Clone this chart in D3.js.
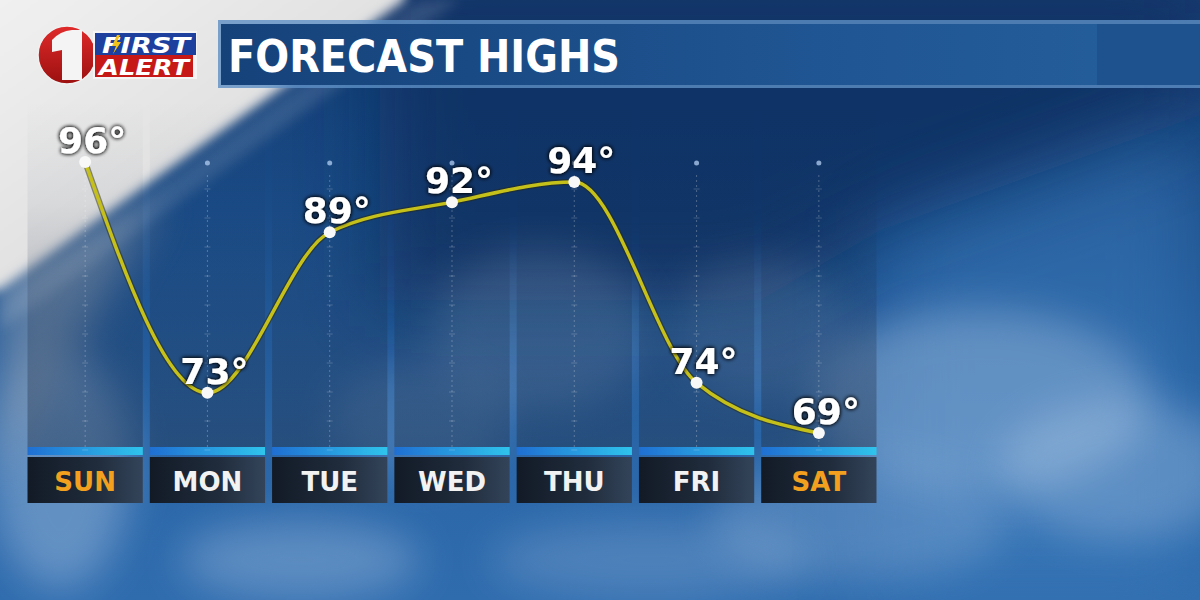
<!DOCTYPE html>
<html><head><meta charset="utf-8">
<script src="https://cdn.jsdelivr.net/npm/d3@7"></script>
<style>html,body{margin:0;padding:0;background:#1b4f8c;overflow:hidden}svg{display:block}</style>
</head><body>
<svg id="c" width="1200" height="600"></svg>
<script>
const days = ["SUN","MON","TUE","WED","THU","FRI","SAT"];
const highs = [96,73,89,92,94,74,69];
const weekend = ["SUN","SAT"];
const title = "FORECAST HIGHS";

const svg = d3.select("#c");
const defs = svg.append("defs");

function lg(id, x1,y1,x2,y2, stops){
  const g = defs.append("linearGradient").attr("id",id)
    .attr("x1",x1).attr("y1",y1).attr("x2",x2).attr("y2",y2);
  stops.forEach(s=>g.append("stop").attr("offset",s[0]).attr("stop-color",s[1]).attr("stop-opacity",s[2]===undefined?1:s[2]));
}
lg("bgBase",0,0,0,1,[[0,"#123a70"],[0.35,"#1a4c88"],[0.75,"#2a66a8"],[1,"#2f6cae"]]);
lg("white",0,0,1,1,[[0,"#f2f2f2"],[0.5,"#e2e2e2"],[1,"#b9bcc2"]]);
lg("panel",0,0,0,1,[[0,"#1a2a45",0],[0.3,"#1a2a45",0.06],[0.6,"#1a2a45",0.22],[1,"#22324a",0.45]]);
lg("strip",0,0,1,0,[[0,"#1f6fd2"],[1,"#2fc4ec"]]);
lg("cell",0,0,1,0,[[0,"#121a26"],[0.6,"#202c3c"],[1,"#33445a"]]);
lg("titleFill",0,0,1,0,[[0,"#16427a"],[0.6,"#1f5592"],[1,"#245f9c"]]);
lg("redc",0,0,0,1,[[0,"#e02a2a"],[1,"#9c1010"]]);

const blur = (id,s)=>defs.append("filter").attr("id",id).attr("x","-50%").attr("y","-50%").attr("width","200%").attr("height","200%")
  .append("feGaussianBlur").attr("stdDeviation",s);
blur("b6",6); blur("b20",20); blur("b40",40); blur("b3",3);
const sh = defs.append("filter").attr("id","shadow").attr("x","-30%").attr("y","-30%").attr("width","160%").attr("height","160%");
sh.append("feGaussianBlur").attr("in","SourceAlpha").attr("stdDeviation",2.2).attr("result","b");
sh.append("feFlood").attr("flood-color","#000").attr("flood-opacity",0.9);
sh.append("feComposite").attr("in2","b").attr("operator","in").attr("result","s");
const m = sh.append("feMerge"); m.append("feMergeNode").attr("in","s"); m.append("feMergeNode").attr("in","s"); m.append("feMergeNode").attr("in","SourceGraphic");

// ---------- background ----------
const bg = svg.append("g");
bg.append("rect").attr("width",1200).attr("height",600).attr("fill","url(#bgBase)");
bg.append("path").attr("d","M380,0 L1200,0 L1200,115 L880,230 L760,300 L380,300 Z").attr("fill","#0e2d5e").attr("opacity",0.75).attr("filter","url(#b40)");
bg.append("path").attr("d","M880,240 L1200,120 L1200,600 L880,600 Z").attr("fill","#3d7dbd").attr("opacity",0.5).attr("filter","url(#b40)");
[[980,400,170,90,0.32],[1120,470,120,70,0.28],[860,520,150,60,0.22],[540,330,110,80,0.18],[300,560,120,40,0.3],[60,470,70,120,0.35],[650,560,160,40,0.2],[420,420,90,60,0.15],[760,330,90,70,0.15]]
  .forEach(c=>bg.append("ellipse").attr("cx",c[0]).attr("cy",c[1]).attr("rx",c[2]).attr("ry",c[3]).attr("fill","#c8daf0").attr("opacity",c[4]).attr("filter","url(#b20)"));
bg.append("path").attr("d","M0,260 L160,200 L0,480 Z").attr("fill","#8a9bb0").attr("opacity",0.6).attr("filter","url(#b20)");
bg.append("path").attr("d","M-20,-20 L405,-20 L405,0 L0,290 L-20,290 Z").attr("fill","url(#white)").attr("filter","url(#b6)");
bg.append("path").attr("d","M0,300 L420,0 L460,0 L0,330 Z").attr("fill","#ffffff").attr("opacity",0.12).attr("filter","url(#b6)");

// ---------- title bar ----------
const tb = svg.append("g");
tb.append("rect").attr("x",218).attr("y",20).attr("width",990).attr("height",68).attr("fill","#5d8fc4").attr("opacity",0.8);
tb.append("rect").attr("x",221).attr("y",24).attr("width",985).attr("height",61).attr("fill","url(#titleFill)");
tb.append("rect").attr("x",1097).attr("y",24).attr("width",110).attr("height",61).attr("fill","#1d528e");
tb.append("text").text(title).attr("x",228).attr("y",72)
  .attr("font-family","'DejaVu Sans', sans-serif").attr("font-weight","bold").attr("font-size",44)
  .attr("fill","#fff").attr("textLength",392).attr("lengthAdjust","spacingAndGlyphs");

// ---------- logo ----------
const lo = svg.append("g");
lo.append("circle").attr("cx",67).attr("cy",55).attr("r",29).attr("fill","url(#redc)").attr("stroke","#f0f0f0").attr("stroke-width",1.5);
lo.append("path").attr("d","M52,40 Q60,31 72,30 L82,30 L82,80 L62,80 L62,50 L52,52 Z").attr("fill","#f4f4f4");
lo.append("rect").attr("x",93).attr("y",31).attr("width",104).attr("height",48).attr("fill","#f4f4f4");
lo.append("rect").attr("x",95).attr("y",33).attr("width",101).attr("height",22).attr("fill","#1d3f9e");
lo.append("rect").attr("x",95).attr("y",55).attr("width",98).attr("height",22).attr("fill","#c71818");
lo.append("text").text("FIRST").attr("x",146).attr("y",53).attr("text-anchor","middle")
  .attr("font-family","'DejaVu Sans', sans-serif").attr("font-weight","bold").attr("font-style","italic").attr("font-size",21)
  .attr("fill","#fff").attr("textLength",88).attr("lengthAdjust","spacingAndGlyphs");
lo.append("path").attr("d","M117,35 L112,46 L116,46 L113,54 L121,42 L117,42 L120,35 Z").attr("fill","#f2c21b");
lo.append("text").text("ALERT").attr("x",144).attr("y",75).attr("text-anchor","middle")
  .attr("font-family","'DejaVu Sans', sans-serif").attr("font-weight","bold").attr("font-style","italic").attr("font-size",21)
  .attr("fill","#fff").attr("textLength",90).attr("lengthAdjust","spacingAndGlyphs");

// ---------- chart ----------
const x = d3.scaleBand().domain(days).range([24,880]).padding(0);
const y = d3.scaleLinear().domain([69,96]).range([433,162]);
const bw = x.bandwidth();
const cx = d => x(d) + bw/2;

const cols = svg.append("g");
days.forEach(d=>{
  cols.append("rect").attr("x",x(d)+3.5).attr("y",100).attr("width",bw-7).attr("height",347).attr("fill","url(#panel)");
  cols.append("rect").attr("x",x(d)+3.5).attr("y",447).attr("width",bw-7).attr("height",8).attr("fill","url(#strip)");
  cols.append("rect").attr("x",x(d)+3.5).attr("y",457).attr("width",bw-7).attr("height",46).attr("fill","url(#cell)");
  cols.append("text").text(d).attr("x",cx(d)).attr("y",491).attr("text-anchor","middle")
    .attr("font-family","'DejaVu Sans', sans-serif").attr("font-weight","bold").attr("font-size",26)
    .attr("fill", weekend.includes(d) ? "#f2a01e" : "#f2f2f2");
  cols.append("line").attr("x1",cx(d)).attr("x2",cx(d)).attr("y1",175).attr("y2",447)
    .attr("stroke","#ffffff").attr("stroke-opacity",0.25).attr("stroke-width",1).attr("stroke-dasharray","2,3");
  d3.range(175,447,29).forEach(t=>cols.append("line").attr("x1",cx(d)-3).attr("x2",cx(d)+3).attr("y1",t+14).attr("y2",t+14)
    .attr("stroke","#ffffff").attr("stroke-opacity",0.2));
  cols.append("circle").attr("cx",cx(d)).attr("cy",163).attr("r",2.5).attr("fill","#a9c6ea").attr("opacity",0.8);
});

const pts = days.map((d,i)=>({d, v:highs[i]}));
const line = d3.line().x(p=>cx(p.d)).y(p=>y(p.v)).curve(d3.curveMonotoneX);
svg.append("path").attr("d",line(pts)).attr("fill","none").attr("stroke","#2a2a10").attr("stroke-opacity",0.5).attr("stroke-width",6);
svg.append("path").attr("d",line(pts)).attr("fill","none").attr("stroke","#c6c01a").attr("stroke-width",3.5);

svg.append("g").selectAll("circle").data(pts).join("circle")
  .attr("cx",p=>cx(p.d)).attr("cy",p=>y(p.v)).attr("r",6).attr("fill","#f8f8f8");

svg.append("g").attr("filter","url(#shadow)").selectAll("text").data(pts).join("text")
  .text(p=>p.v+"°").attr("x",p=>cx(p.d)+7).attr("y",p=>y(p.v)-9).attr("text-anchor","middle")
  .attr("font-family","'DejaVu Sans', sans-serif").attr("font-weight","bold").attr("font-size",36)
  .attr("fill","#ffffff");
</script>
</body></html>
